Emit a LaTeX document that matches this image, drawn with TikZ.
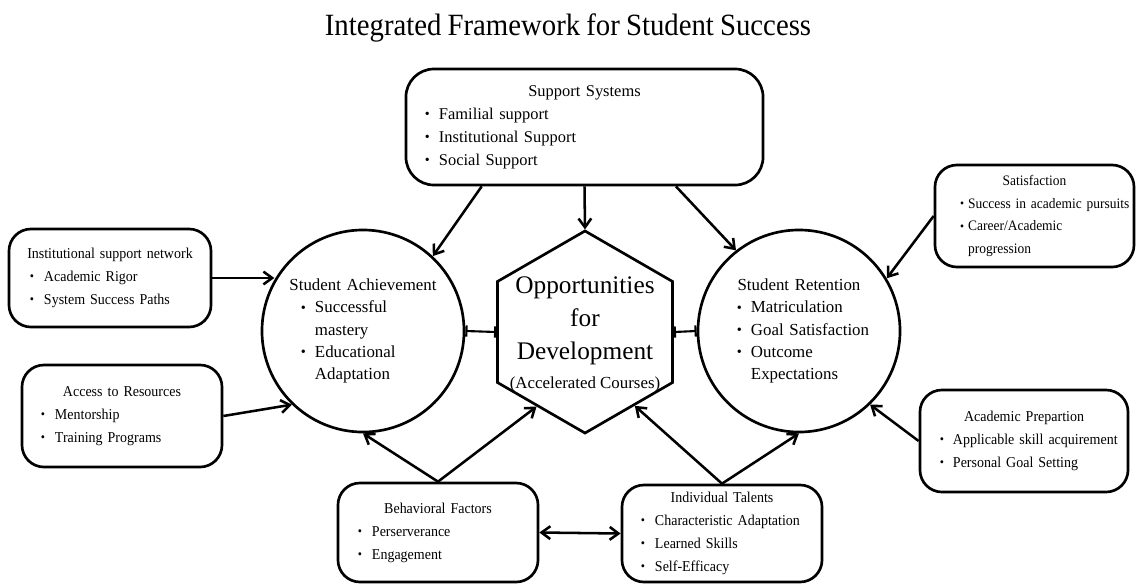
\documentclass[tikz,border=0pt]{standalone}
\usepackage{fontspec}
\setmainfont{Liberation Serif}
\newfontfamily\narrowserif{Liberation Serif}[FakeStretch=0.93,WordSpace=0.85]
\usepackage{graphicx}
\usetikzlibrary{arrows.meta,shapes.geometric}
\tikzset{>={Straight Barb[length=2.2mm,width=3.2mm]}}
\tikzset{
  box/.style={draw,line width=1.9pt,rounded corners=0.55cm,inner sep=0pt,align=left},
  smallbox/.style={box,font=\narrowserif\fontsize{10.7}{16.3}\selectfont},
  goal/.style={draw,circle,line width=1.9pt,inner sep=0pt,minimum size=5.05cm,text width=4cm,align=left,font=\fontsize{12}{15.7}\selectfont},
  hexa/.style={draw,regular polygon,regular polygon sides=6,shape border rotate=30,line width=1.9pt,minimum size=5.05cm,inner sep=0pt},
  link/.style={->,line width=1.8pt},
  both/.style={<->,line width=1.8pt},
  pair/.style={{Bar[width=2.8mm]}-{Bar[width=2.8mm]},line width=1.5pt}
}
\newcommand{\bdot}{\raisebox{0.1ex}{\scalebox{0.85}{\textbullet}}}
\newcommand{\hd}[1]{\makebox[\hsize]{#1}}
\newcommand{\bl}[3][0.35cm]{\hspace*{#2}\makebox[#1][l]{\bdot}\mbox{#3}}
\newcommand{\cont}[2]{\hspace*{#1}\mbox{#2}}

\begin{document}
\begin{tikzpicture}[x=0.025cm,y=-0.025cm]
  \useasboundingbox (0,0) rectangle (1138,587);

  \node[font=\narrowserif\fontsize{22}{26}\selectfont] (title) at (568,28) {Integrated Framework for Student Success};

  \node[box,font=\fontsize{11.7}{16.4}\selectfont,rounded corners=0.7cm,minimum width=8.925cm,text width=8.925cm,minimum height=2.9cm] (sup) at (584.5,127)
    {\hd{Support Systems}\\ \bl{0.475cm}{Familial support}\\ \bl{0.475cm}{Institutional Support}\\ \bl{0.475cm}{Social Support}};

  \node[goal] (ach) at (363,331)
    {\hd{Student Achievement}\\ \bl{0.45cm}{Successful}\\ \cont{0.8cm}{mastery}\\ \bl{0.45cm}{Educational}\\ \cont{0.8cm}{Adaptation}};
  \node[goal] (ret) at (799,331)
    {\hd{Student Retention}\\ \bl{0.45cm}{Matriculation}\\ \bl{0.45cm}{Goal Satisfaction}\\ \bl{0.45cm}{Outcome}\\ \cont{0.8cm}{Expectations}};

  \node[hexa] (opp) at (585,332) {};
  \node[font=\fontsize{18}{23.5}\selectfont,align=center] (opptxt) at (585,334)
    {Opportunities\\for\\Development\\[-3pt]{\fontsize{12}{14}\selectfont(Accelerated Courses)}};

  \node[smallbox,minimum width=5.05cm,text width=5.05cm,minimum height=2.45cm] (ins) at (110,278)
    {\hd{Institutional support network}\\ \bl{0.525cm}{Academic Rigor}\\ \bl{0.525cm}{System Success Paths}};
  \node[smallbox,minimum width=5cm,text width=5cm,minimum height=2.55cm] (acc) at (122,416)
    {\hd{Access to Resources}\\ \bl{0.475cm}{Mentorship}\\ \bl{0.475cm}{Training Programs}};
  \node[smallbox,font=\narrowserif\fontsize{10.3}{16.2}\selectfont,minimum width=4.975cm,text width=4.975cm,minimum height=2.55cm] (sat) at (1034.5,216)
    {\hd{Satisfaction}\\ \bl[0.2cm]{0.63cm}{Success in academic pursuits}\\ \bl[0.2cm]{0.63cm}{Career/Academic}\\ \cont{0.83cm}{progression}};
  \node[smallbox,minimum width=5.2cm,text width=5.2cm,minimum height=2.55cm] (aca) at (1024,441)
    {\hd{Academic Prepartion}\\ \bl[0.325cm]{0.5cm}{Applicable skill acquirement}\\ \bl[0.325cm]{0.5cm}{Personal Goal Setting}};
  \node[smallbox,minimum width=5cm,text width=5cm,minimum height=2.475cm] (beh) at (438,532.5)
    {\hd{Behavioral Factors}\\ \bl{0.5cm}{Perserverance}\\ \bl{0.5cm}{Engagement}};
  \node[smallbox,minimum width=5cm,text width=5cm,minimum height=2.425cm] (ind) at (722,533.5)
    {\hd{Individual Talents}\\ \bl{0.475cm}{Characteristic Adaptation}\\ \bl{0.475cm}{Learned Skills}\\ \bl{0.475cm}{Self-Efficacy}};

  \draw[link] (sup.210.7) -- (ach.47);
  \draw[link] (sup.south) -- (opp.90);
  \draw[link] (sup.-33.2) -- (ret.128.6);
  \draw[link] (ins.east) -- (ins.east -| ach.150);
  \draw[link] (acc.east) -- (ach.226.6);
  \draw[link] (sat.west) -- (ret.31);
  \draw[link] (aca.west) -- (ret.-46);
  \draw[link] (beh.north) -- (ach.south);
  \draw[link] (beh.north) -- (opp.237);
  \draw[link] (ind.north) -- (opp.-56);
  \draw[link] (ind.north) -- (ret.south);
  \draw[both] (beh.east) -- (ind.west);
  \draw[pair] (ach.east) -- (opp.180);
  \draw[pair] (opp.0) -- (ret.west);
\end{tikzpicture}
\end{document}
